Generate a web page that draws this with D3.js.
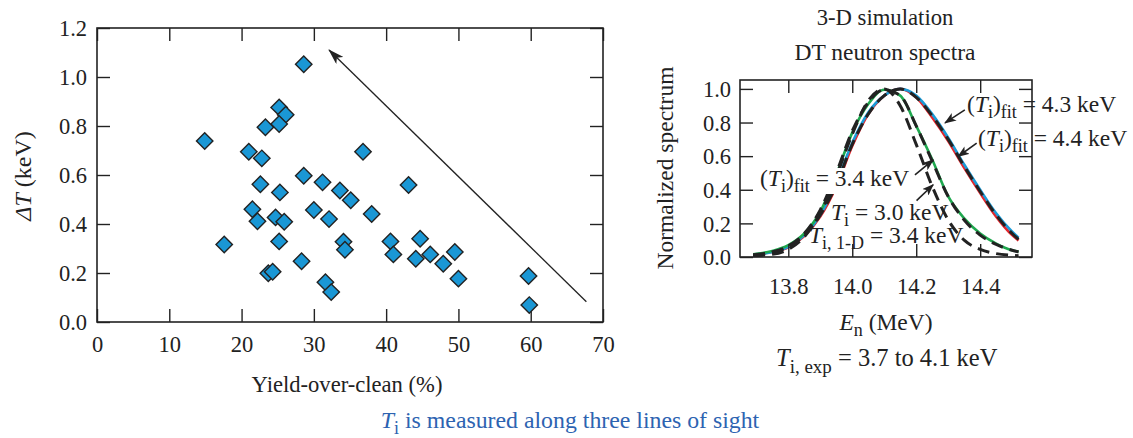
<!DOCTYPE html>
<meta charset="utf-8">
<script src="https://d3js.org/d3.v7.min.js"></script>
<style>
  body { margin: 0; background: #fff; }
  text { font-family: "Liberation Serif", "Times New Roman", serif; fill: #222; }
</style>
<div id="chart"></div>
<script>
  // ---- left panel data: yield-over-clean vs delta T ----
  var yieldOverClean = [28.6, 25.2, 26.1, 25.2, 23.3, 14.9, 21.0, 22.8, 28.6, 31.2,
    22.6, 33.6, 25.3, 35.1, 21.5, 30.0, 22.2, 24.7, 25.9, 32.1,
    17.6, 25.2, 34.1, 34.3, 28.3, 23.7, 24.3, 31.6, 32.4, 36.8,
    43.1, 38.0, 40.6, 41.0, 44.7, 44.1, 46.1, 47.9, 49.5, 50.0,
    59.7, 59.8];
  var deltaT = [1.052, 0.876, 0.846, 0.808, 0.795, 0.739, 0.695, 0.668, 0.597, 0.570,
    0.562, 0.537, 0.529, 0.497, 0.460, 0.457, 0.411, 0.427, 0.409, 0.420,
    0.316, 0.329, 0.328, 0.295, 0.248, 0.199, 0.205, 0.162, 0.122, 0.695,
    0.559, 0.441, 0.329, 0.276, 0.340, 0.258, 0.276, 0.238, 0.286, 0.177,
    0.188, 0.069];
  var trendArrow = [[67.7, 0.083], [32.1, 1.11]];
  var leftXTicks = [0, 10, 20, 30, 40, 50, 60, 70];
  var leftYTicks = [0, 0.2, 0.4, 0.6, 0.8, 1.0, 1.2];

  // ---- right panel data: normalized DT neutron spectra ----
  var energy = [13.69, 13.75, 13.80, 13.85, 13.90, 13.95, 14.00, 14.05, 14.10,
    14.15, 14.20, 14.25, 14.30, 14.35, 14.40, 14.45, 14.50, 14.52];
  var specGreen = [0.016, 0.035, 0.07, 0.14, 0.27, 0.49, 0.74, 0.91, 0.995,
    0.96, 0.78, 0.58, 0.36, 0.23, 0.14, 0.08, 0.04, 0.032];
  var specGreenFit = [0.012, 0.03, 0.065, 0.14, 0.28, 0.50, 0.75, 0.92, 0.995,
    0.96, 0.78, 0.57, 0.36, 0.22, 0.13, 0.075, 0.04, 0.03];
  var specNarrow = [0.008, 0.016, 0.045, 0.12, 0.26, 0.48, 0.73, 0.93, 1.0,
    0.90, 0.67, 0.42, 0.22, 0.10, 0.045, 0.02, 0.01, 0.008];
  var specBlue = [0.015, 0.03, 0.06, 0.13, 0.25, 0.44, 0.68, 0.86, 0.96,
    1.0, 0.96, 0.85, 0.71, 0.55, 0.40, 0.26, 0.15, 0.115];
  var specRed = [0.015, 0.03, 0.058, 0.125, 0.24, 0.42, 0.66, 0.85, 0.96,
    1.0, 0.95, 0.83, 0.69, 0.53, 0.38, 0.24, 0.13, 0.098];
  var specBlueFit = [0.012, 0.028, 0.06, 0.13, 0.25, 0.43, 0.67, 0.85, 0.96,
    1.0, 0.95, 0.84, 0.70, 0.54, 0.39, 0.25, 0.14, 0.105];
  var rightXTicks = [13.8, 14.0, 14.2, 14.4];
  var rightYTicks = [0, 0.2, 0.4, 0.6, 0.8, 1.0];
  // annotation arrows (tail, tip) in spectrum units
  var specArrows = [
    [[14.352, 0.875], [14.29, 0.798]],
    [[14.389, 0.677], [14.331, 0.598]],
    [[14.196, 0.489], [14.253, 0.578]],
    [[14.201, 0.335], [14.253, 0.43]]
  ];

  var ink = "#222";
  var svg = d3.select("#chart").append("svg")
    .attr("width", 1133).attr("height", 438);

  var defs = svg.append("defs");
  defs.append("marker").attr("id", "headBig")
    .attr("viewBox", "0 0 16 10").attr("refX", 15).attr("refY", 5)
    .attr("markerWidth", 16).attr("markerHeight", 10)
    .attr("markerUnits", "userSpaceOnUse").attr("orient", "auto")
    .append("path").attr("d", "M0,0 L16,5 L0,10 L4,5 Z").attr("fill", ink);
  defs.append("marker").attr("id", "headSmall")
    .attr("viewBox", "0 0 12 9").attr("refX", 11).attr("refY", 4.5)
    .attr("markerWidth", 12).attr("markerHeight", 9)
    .attr("markerUnits", "userSpaceOnUse").attr("orient", "auto")
    .append("path").attr("d", "M0,0 L12,4.5 L0,9 L3,4.5 Z").attr("fill", ink);

  // inward ticks on four sides plus frame
  function drawFrame(x, y, xt, yt, xfmt, yfmt, labelY, labelX) {
    var x0 = x.range()[0], x1 = x.range()[1], yb = y.range()[0], yt0 = y.range()[1];
    function style(g) {
      g.select(".domain").remove();
      g.attr("font-size", 22.5).attr("font-family", null);
      g.selectAll(".tick line").attr("stroke", ink).attr("stroke-width", 1.4);
      g.selectAll("text").attr("fill", ink);
    }
    svg.append("g").attr("transform", "translate(0," + yb + ")")
      .call(d3.axisBottom(x).tickValues(xt).tickSize(-13).tickFormat(xfmt))
      .call(style)
      .call(function (g) { g.selectAll("text").attr("y", labelY).attr("dy", 0); });
    svg.append("g").attr("transform", "translate(0," + yt0 + ")")
      .call(d3.axisTop(x).tickValues(xt).tickSize(-13).tickFormat(function () { return ""; }))
      .call(style);
    svg.append("g").attr("transform", "translate(" + x0 + ",0)")
      .call(d3.axisLeft(y).tickValues(yt).tickSize(-13).tickFormat(yfmt))
      .call(style)
      .call(function (g) { g.selectAll("text").attr("x", -labelX).attr("dy", "0.34em"); });
    svg.append("g").attr("transform", "translate(" + x1 + ",0)")
      .call(d3.axisRight(y).tickValues(yt).tickSize(-13).tickFormat(function () { return ""; }))
      .call(style);
    svg.append("rect").attr("x", x0).attr("y", yt0)
      .attr("width", x1 - x0).attr("height", yb - yt0)
      .attr("fill", "none").attr("stroke", ink).attr("stroke-width", 1.6);
  }

  // text with italic / subscript pieces: [string, kind] kind: n, i, s
  function richText(x, y, parts, size, anchor, fill) {
    var sub = Math.round(size * 0.76), drop = Math.round(size * 0.27);
    var t = svg.append("text").attr("x", x).attr("y", y)
      .attr("font-size", size).attr("text-anchor", anchor || "start");
    if (fill) t.style("fill", fill);
    var down = false;
    parts.forEach(function (p) {
      var s = t.append("tspan").text(p[0]);
      if (p[1] === "i") s.attr("font-style", "italic");
      if (p[1] === "s") {
        s.attr("font-size", sub);
        if (!down) { s.attr("dy", drop); down = true; }
      } else if (down) { s.attr("dy", -drop); down = false; }
    });
    return t;
  }
  // white box behind a label so curves pass under it
  function boxBehind(t) {
    var b = t.node().getBBox();
    svg.insert("rect", function () { return t.node(); })
      .attr("x", b.x - 1).attr("y", b.y + 3).attr("width", b.width + 2).attr("height", b.height - 5)
      .attr("fill", "#fff");
  }

  // ---------- left panel ----------
  var xL = d3.scaleLinear().domain([0, 70]).range([97, 603]);
  var yL = d3.scaleLinear().domain([0, 1.2]).range([322, 28]);
  drawFrame(xL, yL, leftXTicks, leftYTicks, d3.format("d"), d3.format(".1f"), 30, 10);

  svg.append("line")
    .attr("x1", xL(trendArrow[0][0])).attr("y1", yL(trendArrow[0][1]))
    .attr("x2", xL(trendArrow[1][0])).attr("y2", yL(trendArrow[1][1]))
    .attr("stroke", ink).attr("stroke-width", 1.3)
    .attr("marker-end", "url(#headBig)");

  svg.append("g").selectAll("path")
    .data(d3.range(yieldOverClean.length))
    .join("path")
    .attr("d", d3.symbol(d3.symbolSquare, 135))
    .attr("transform", function (i) {
      return "translate(" + xL(yieldOverClean[i]) + "," + yL(deltaT[i]) + ") rotate(45)";
    })
    .attr("fill", "#1a97d5").attr("stroke", ink).attr("stroke-width", 1.4);

  richText(0, 0, [["Δ", "i"], ["T", "i"], [" (keV)", "n"]], 24, "middle")
    .attr("transform", "translate(31,176) rotate(-90)");
  richText(347, 392, [["Yield-over-clean (%)", "n"]], 22.6, "middle");

  // ---------- right panel ----------
  var xR = d3.scaleLinear().domain([13.649, 14.562]).range([740, 1032]);
  var yR = d3.scaleLinear().domain([0, 1.053]).range([257, 80]);

  var line = d3.line()
    .x(function (d, i) { return xR(energy[i]); })
    .y(function (d) { return yR(d); })
    .curve(d3.curveMonotoneX);

  var solid = [[specRed, "#e3262d"], [specBlue, "#1b9bd7"], [specGreen, "#1fa84f"]];
  solid.forEach(function (s) {
    svg.append("path").datum(s[0]).attr("d", line)
      .attr("fill", "none").attr("stroke", s[1]).attr("stroke-width", 2.6);
  });
  [specGreenFit, specBlueFit, specNarrow].forEach(function (s) {
    svg.append("path").datum(s).attr("d", line)
      .attr("fill", "none").attr("stroke", ink).attr("stroke-width", 3)
      .attr("stroke-dasharray", "12,7");
  });

  drawFrame(xR, yR, rightXTicks, rightYTicks, d3.format(".1f"), d3.format(".1f"), 37, 9);

  specArrows.forEach(function (a) {
    svg.append("line")
      .attr("x1", xR(a[0][0])).attr("y1", yR(a[0][1]))
      .attr("x2", xR(a[1][0])).attr("y2", yR(a[1][1]))
      .attr("stroke", ink).attr("stroke-width", 1.6)
      .attr("marker-end", "url(#headSmall)");
  });

  richText(967, 112, [["(", "n"], ["T", "i"], ["i", "s"], [")", "n"], ["fit", "s"], [" = 4.3 keV", "n"]], 23.5);
  richText(978, 146, [["(", "n"], ["T", "i"], ["i", "s"], [")", "n"], ["fit", "s"], [" = 4.4 keV", "n"]], 23.5);
  boxBehind(richText(760, 186, [["(", "n"], ["T", "i"], ["i", "s"], [")", "n"], ["fit", "s"], [" = 3.4 keV", "n"]], 23.5));
  richText(831, 220, [["T", "i"], ["i", "s"], [" = 3.0 keV", "n"]], 23.5);
  richText(809, 243, [["T", "i"], ["i, 1-D", "s"], [" = 3.4 keV", "n"]], 23.5);

  richText(885, 25, [["3-D simulation", "n"]], 22.7, "middle");
  richText(885, 60, [["DT neutron spectra", "n"]], 23.5, "middle");
  richText(0, 0, [["Normalized spectrum", "n"]], 23.5, "middle")
    .attr("transform", "translate(673,168) rotate(-90)");
  richText(886, 330, [["E", "i"], ["n", "s"], [" (MeV)", "n"]], 23.5, "middle");
  richText(776, 366, [["T", "i"], ["i, exp", "s"], [" = 3.7 to 4.1 keV", "n"]], 24.5);

  // ---------- footer ----------
  richText(570, 428, [["T", "i"], ["i", "s"], [" is measured along three lines of sight", "n"]], 23.8, "middle", "#2d63b1");
</script>
